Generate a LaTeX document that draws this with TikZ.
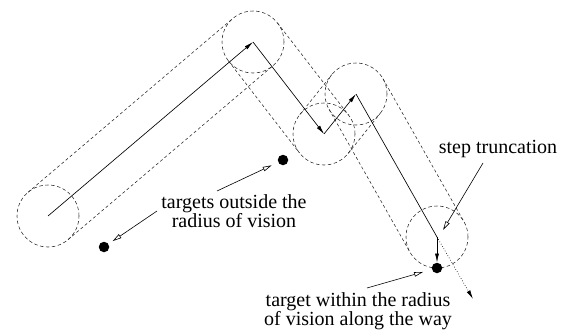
\documentclass[tikz,border=0pt]{standalone}
\usepackage{fontspec}
\setmainfont{Liberation Serif}
\usetikzlibrary{arrows.meta,calc}

\tikzset{
  vision/.style={draw=black!85, line width=0.55pt, dash pattern=on 3.5pt off 2.5pt, circle, minimum size=62pt, inner sep=0pt},
  tube/.style={draw=black!85, line width=0.55pt, dash pattern=on 3pt off 2.5pt},
  move/.style={line width=0.65pt, -{Latex[length=9pt,width=4pt]}},
  target/.style={circle, fill=black, minimum size=10.5pt, inner sep=0pt},
  pointer/.style={line width=0.6pt, -{Triangle[open,length=9pt,width=4.5pt]}},
  caption/.style={font=\fontsize{20}{18.5}\selectfont, align=center, inner sep=0pt}
}

\begin{document}
\begin{tikzpicture}[x=1pt, y=-1pt]
    % Canvas with the size of the reference
    \useasboundingbox (0,0) rectangle (571,332);

    % Way points of the walk
    \coordinate (p0) at (48,216);
    \coordinate (p1) at (253,42);
    \coordinate (p2) at (324,134);
    \coordinate (p3) at (356,94);
    \coordinate (p4) at (437,237);
    \coordinate (beyond) at (473,299);

    % Radius of vision around each way point
    \foreach \p in {0,...,4}
      \node[vision] (c\p) at (p\p) {};

    % Swept band along each step
    \foreach \a/\b in {p0/p1, p1/p2, p2/p3, p3/p4} {
      \draw[tube] ($(\a)!31pt!90:(\b)$) -- ($(\b)!31pt!-90:(\a)$);
      \draw[tube] ($(\a)!31pt!-90:(\b)$) -- ($(\b)!31pt!90:(\a)$);
    }

    % Targets
    \node[target] (t1) at (283,160) {};
    \node[target] (t2) at (104,247) {};
    \node[target] (t3) at (437,268) {};

    % The walk itself
    \draw[move] (p0) -- (p1);
    \draw[move] (p1) -- (p2);
    \draw[move] (p2) -- (p3);
    \draw[line width=0.65pt] (p3) -- (p4);
    \draw[move] (p4) -- (t3.north);
    \draw[line width=0.65pt, dotted, -{Latex[length=9pt,width=4pt]}] (p4) -- (beyond);

    % Labels with their pointers
    \node[caption] (outside) at (234,211) {targets outside the\\radius of vision};
    \coordinate (from1) at (217,191);
    \coordinate (from2) at (157,211);
    \draw[pointer, shorten >=7pt] (from1) -- (t1);
    \draw[pointer, shorten >=5pt] (from2) -- (t2);

    \node[caption] (trunc) at (498,149) {step truncation};
    \coordinate (from3) at (483,163);
    \coordinate (cut) at (443,230);
    \draw[pointer] (from3) -- (cut);

    \node[caption] (within) at (358,311) {target within the radius\\of vision along the way};
    \coordinate (from4) at (367,288);
    \draw[pointer, shorten >=9pt] (from4) -- (t3);
\end{tikzpicture}
\end{document}
